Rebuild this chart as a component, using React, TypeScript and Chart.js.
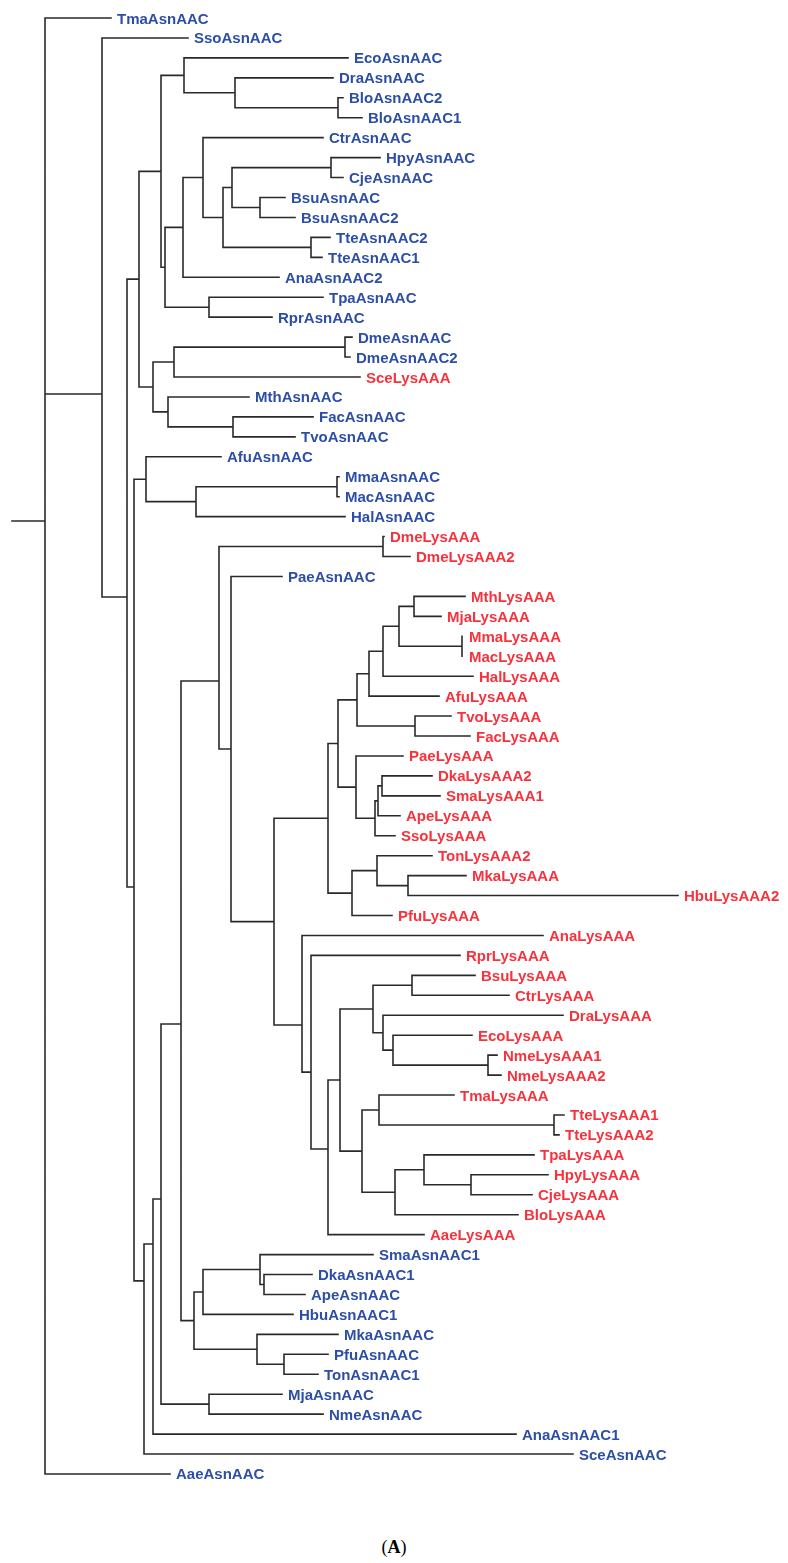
import React, { useEffect, useRef } from "react";
import { Chart, registerables } from "chart.js";

Chart.register(...registerables);

// Internal nodes of the tree (listed parent before child). Depth = distance from root.
const nodeNames = [
  "R", "N102", "N127", "N139", "N161", "N184", "N235", "N338a", "N165", "N183",
  "N203", "N223", "N232", "N331", "N260a", "N311a", "N209a", "N153", "N174", "N345",
  "N168", "N233", "N134", "N146", "N196", "N337", "N144", "N153b", "N161b", "N181",
  "N219", "N383a", "N231", "N274", "N328", "N338", "N357", "N369", "N383", "N399",
  "N414", "N462", "N415", "N356", "N375", "N378", "N382", "N352", "N377", "N408",
  "N302", "N311b", "N328b", "N340", "N373", "N412", "N383b", "N393", "N488", "N362",
  "N379", "N554", "N395", "N424", "N471", "N194", "N203b", "N260b", "N264", "N257",
  "N284", "N209b",
];
const nodeParents = [
  "", "R", "N102", "N127", "N139", "N161", "N184", "N235", "N161", "N165",
  "N183", "N203", "N223", "N232", "N232", "N223", "N165", "N139", "N153", "N174",
  "N153", "N168", "N127", "N134", "N146", "N196", "N134", "N144", "N153b", "N161b",
  "N181", "N219", "N219", "N231", "N274", "N328", "N338", "N357", "N369", "N383",
  "N399", "N399", "N357", "N338", "N356", "N375", "N378", "N328", "N352", "N377",
  "N274", "N302", "N311b", "N328b", "N340", "N373", "N373", "N383b", "N393", "N340",
  "N362", "N379", "N362", "N395", "N424", "N181", "N194", "N203b", "N260b", "N194",
  "N257", "N161b",
];
const nodeDepths = [
  0, 57, 82, 94, 116, 139, 190, 293, 120, 138,
  158, 178, 187, 286, 215, 266, 164, 108, 129, 300,
  123, 188, 89, 101, 151, 292, 99, 108, 116, 136,
  174, 338, 186, 229, 283, 293, 312, 324, 338, 354,
  369, 417, 370, 311, 330, 333, 337, 307, 332, 363,
  257, 266, 283, 295, 328, 367, 338, 348, 443, 317,
  334, 509, 350, 379, 426, 149, 158, 215, 219, 212,
  239, 164,
];
// Join positions (in leaf slots) where they differ from the children's midpoint
const joinNodes = ["R", "N102", "N127", "N134", "N144", "N153b", "N161b", "N181", "N219", "N302", "N311b", "N328b"];
const joinSlots = [25.22, 18.85, 29.03, 43.57, 63.32, 61.47, 59.21, 50.44, 33.24, 50.49, 52.85, 56.71];
const rootStubDepth = -33;

// Leaves, top to bottom
const leafNames = [
  "TmaAsnAAC", "SsoAsnAAC", "EcoAsnAAC", "DraAsnAAC", "BloAsnAAC2", "BloAsnAAC1", "CtrAsnAAC", "HpyAsnAAC",
  "CjeAsnAAC", "BsuAsnAAC", "BsuAsnAAC2", "TteAsnAAC2", "TteAsnAAC1", "AnaAsnAAC2", "TpaAsnAAC", "RprAsnAAC",
  "DmeAsnAAC", "DmeAsnAAC2", "SceLysAAA", "MthAsnAAC", "FacAsnAAC", "TvoAsnAAC", "AfuAsnAAC", "MmaAsnAAC",
  "MacAsnAAC", "HalAsnAAC", "DmeLysAAA", "DmeLysAAA2", "PaeAsnAAC", "MthLysAAA", "MjaLysAAA", "MmaLysAAA",
  "MacLysAAA", "HalLysAAA", "AfuLysAAA", "TvoLysAAA", "FacLysAAA", "PaeLysAAA", "DkaLysAAA2", "SmaLysAAA1",
  "ApeLysAAA", "SsoLysAAA", "TonLysAAA2", "MkaLysAAA", "HbuLysAAA2", "PfuLysAAA", "AnaLysAAA", "RprLysAAA",
  "BsuLysAAA", "CtrLysAAA", "DraLysAAA", "EcoLysAAA", "NmeLysAAA1", "NmeLysAAA2", "TmaLysAAA", "TteLysAAA1",
  "TteLysAAA2", "TpaLysAAA", "HpyLysAAA", "CjeLysAAA", "BloLysAAA", "AaeLysAAA", "SmaAsnAAC1", "DkaAsnAAC1",
  "ApeAsnAAC", "HbuAsnAAC1", "MkaAsnAAC", "PfuAsnAAC", "TonAsnAAC1", "MjaAsnAAC", "NmeAsnAAC", "AnaAsnAAC1",
  "SceAsnAAC", "AaeAsnAAC",
];
const leafParents = [
  "R", "N102", "N184", "N235", "N338a", "N338a", "N203", "N331",
  "N331", "N260a", "N260a", "N311a", "N311a", "N183", "N209a", "N209a",
  "N345", "N345", "N174", "N168", "N233", "N233", "N146", "N337",
  "N337", "N196", "N383a", "N383a", "N231", "N414", "N414", "N462",
  "N462", "N383", "N369", "N415", "N415", "N356", "N382", "N382",
  "N378", "N375", "N377", "N408", "N408", "N352", "N302", "N311b",
  "N412", "N412", "N383b", "N393", "N488", "N488", "N379", "N554",
  "N554", "N424", "N471", "N471", "N395", "N328b", "N260b", "N264",
  "N264", "N203b", "N257", "N284", "N284", "N209b", "N209b", "N153b",
  "N144", "R",
];
const leafDepths = [
  66, 143, 303, 288, 298, 317, 278, 335,
  298, 240, 250, 285, 277, 234, 278, 227,
  307, 305, 315, 204, 268, 250, 176, 294,
  294, 300, 339, 365, 237, 420, 396, 418,
  418, 428, 394, 406, 425, 358, 387, 395,
  355, 350, 387, 421, 633, 347, 498, 415,
  430, 464, 518, 427, 452, 456, 409, 519,
  514, 489, 503, 487, 473, 379, 328, 267,
  260, 248, 293, 283, 273, 237, 278, 471,
  528, 125,
];

const BLUE = "#2d4ea6";
const RED = "#f8323c";
const LINE = "#2a2a2a";

function buildSegments() {
  const idx = new Map<string, number>(nodeNames.map((n, i) => [n, i]));
  const children: number[][] = nodeNames.map(() => []);
  leafParents.forEach((p, i) => children[idx.get(p)!].push(i));
  const slot: number[] = new Array(nodeNames.length).fill(0);
  const ext: [number, number][] = nodeNames.map(() => [0, 0]);
  for (let k = nodeNames.length - 1; k >= 0; k--) {
    const cs = children[k];
    const lo = Math.min(...cs);
    const hi = Math.max(...cs);
    const o = joinNodes.indexOf(nodeNames[k]);
    slot[k] = o >= 0 ? joinSlots[o] : (lo + hi) / 2;
    ext[k] = [lo, hi];
    if (k > 0) children[idx.get(nodeParents[k])!].push(slot[k]);
  }
  const pts: any[] = [];
  const seg = (x1: number, y1: number, x2: number, y2: number) => {
    pts.push({ x: x1, y: y1 }, { x: x2, y: y2 }, { x: null, y: null });
  };
  leafNames.forEach((_, i) => {
    const p = idx.get(leafParents[i])!;
    seg(nodeDepths[p], i, leafDepths[i], i);
  });
  nodeNames.forEach((_, k) => {
    if (k > 0) {
      const p = idx.get(nodeParents[k])!;
      seg(nodeDepths[p], slot[k], nodeDepths[k], slot[k]);
    }
    seg(nodeDepths[k], ext[k][0], nodeDepths[k], ext[k][1]);
  });
  seg(rootStubDepth, slot[0], nodeDepths[0], slot[0]);
  return pts;
}

const labelPlugin = {
  id: "leafLabels",
  afterDatasetsDraw(chart: any) {
    const { ctx, scales } = chart;
    const xs = scales.x;
    const ys = scales.y;
    ctx.save();
    ctx.font = 'bold 15px "Liberation Sans", Arial, sans-serif';
    ctx.textBaseline = "alphabetic";
    ctx.textAlign = "left";
    leafNames.forEach((name, i) => {
      ctx.fillStyle = name.includes("Lys") ? RED : BLUE;
      ctx.fillText(name, xs.getPixelForValue(leafDepths[i]) + 6, ys.getPixelForValue(i) + 5.5);
    });
    ctx.restore();
  },
};

export default function App() {
  const ref = useRef<HTMLCanvasElement | null>(null);
  useEffect(() => {
    if (!ref.current) return;
    const chart = new Chart(ref.current, {
      type: "line",
      data: {
        datasets: [
          {
            data: buildSegments(),
            borderColor: LINE,
            borderWidth: 1.6,
            borderCapStyle: "square",
            pointRadius: 0,
            spanGaps: false,
            tension: 0,
          } as any,
        ],
      },
      options: {
        animation: false,
        responsive: false,
        devicePixelRatio: 1,
        layout: { padding: 0 },
        plugins: { legend: { display: false }, tooltip: { enabled: false } },
        scales: {
          x: { type: "linear", min: -45, max: 743, display: false },
          y: { type: "linear", min: -0.9025, max: 74.305, reverse: true, display: false },
        },
      },
      plugins: [labelPlugin],
    });
    return () => chart.destroy();
  }, []);
  return (
    <div style={{ position: "absolute", left: 0, top: 0, width: 788, height: 1563, background: "#fff" }}>
      <canvas ref={ref} width={788} height={1500} style={{ display: "block" }} />
      <div
        style={{
          position: "absolute",
          left: 0,
          top: 1536,
          width: 788,
          textAlign: "center",
          fontFamily: '"Liberation Serif", "Times New Roman", serif',
          fontSize: 18,
          lineHeight: "22px",
          color: "#000",
        }}
      >
        (<b>A</b>)
      </div>
    </div>
  );
}
